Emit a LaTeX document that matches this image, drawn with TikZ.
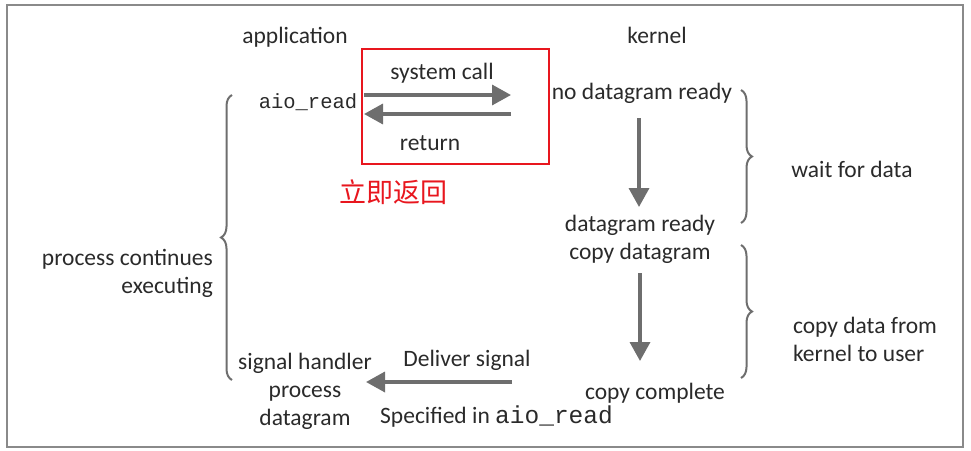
\documentclass[tikz,border=0pt]{standalone}
\usepackage{fontspec}
\setmainfont{Carlito}
\newfontfamily\monofnt{Liberation Mono}
\newfontfamily\cjkfnt{Noto Sans CJK SC}
\usetikzlibrary{arrows.meta,decorations.pathreplacing}
\definecolor{txt}{HTML}{2A2A2A}
\definecolor{linegray}{HTML}{6E6E6E}
\definecolor{framegray}{HTML}{8A8A8A}
\definecolor{redbox}{HTML}{E8161E}
\tikzset{
  lbl/.style={font=\fontsize{23.5}{28}\selectfont, text=txt, inner sep=0pt},
  mono/.style={font=\monofnt\fontsize{20.5}{24}\selectfont, text=txt, inner sep=0pt},
  arr/.style={draw=linegray, line width=3.5pt, -{Triangle[length=19pt,width=20pt]}},
  brc/.style={draw=linegray, line width=2pt, decorate, decoration={brace, amplitude=11pt}},
}
\begin{document}
\begin{tikzpicture}[x=1pt,y=-1pt]
\useasboundingbox (0,0) rectangle (971,450);
\draw[framegray, line width=1.5pt] (7,5) rectangle (963,447);
% texts
\node[lbl] (app) at (295,37) {application};
\node[lbl] (kern) at (657,35) {kernel};
\node[mono] (aio) at (308,102) {aio\_read};
\node[lbl] (sys) at (442,73) {system call};
\node[lbl] (ret) at (430,143) {return};
\node[lbl] (ndr) at (642,93) {no datagram ready};
\node[lbl] (dr) at (640,225) {datagram ready};
\node[lbl] (cd) at (640,253) {copy datagram};
\node[lbl] (cc) at (655,393) {copy complete};
\node[lbl] (wfd) at (852,169) {wait for data};
\node[lbl, align=left] (cdk) at (865,339) {copy data from\\kernel to user};
\node[lbl, align=right, anchor=east] (pce) at (213,273) {process continues\\executing};
\node[lbl, align=center] (shp) at (305,391) {signal handler\\process\\datagram};
\node[lbl] (dsig) at (467,360) {Deliver signal};
\node[lbl, anchor=west] (spec) at (380,417) {Specified in {\monofnt\fontsize{24.5}{28}\selectfont aio\_read}};
\node[font=\cjkfnt\fontsize{27}{30}\selectfont, text=redbox, inner sep=0pt] (ljfh) at (393,192) {立即返回};
% red box
\node[draw=redbox, line width=1.6pt, minimum width=187pt, minimum height=115pt, inner sep=0pt] (rbox) at (455.5,106.5) {};
% arrows
\coordinate (sca) at (364,95);
\coordinate (scb) at (511,95);
\coordinate (rta) at (511,114);
\coordinate (rtb) at (364,114);
\draw[arr] (sca) -- (scb);
\draw[arr] (rta) -- (rtb);
\coordinate (d1a) at (639,118);
\coordinate (d1b) at (639,207);
\draw[arr] (d1a) -- (d1b);
\coordinate (d2a) at (640,273);
\coordinate (d2b) at (640,361);
\draw[arr] (d2a) -- (d2b);
\coordinate (dsa) at (512,382);
\coordinate (dsb) at (366,382);
\draw[arr] (dsa) -- (dsb);
% braces
\coordinate (b1a) at (741,90);
\coordinate (b1b) at (741,223);
\draw[brc] (b1a) -- (b1b);
\coordinate (b2a) at (741,245);
\coordinate (b2b) at (741,378);
\draw[brc] (b2a) -- (b2b);
\coordinate (b3a) at (232,380);
\coordinate (b3b) at (232,95);
\draw[brc] (b3a) -- (b3b);
\end{tikzpicture}
\end{document}
